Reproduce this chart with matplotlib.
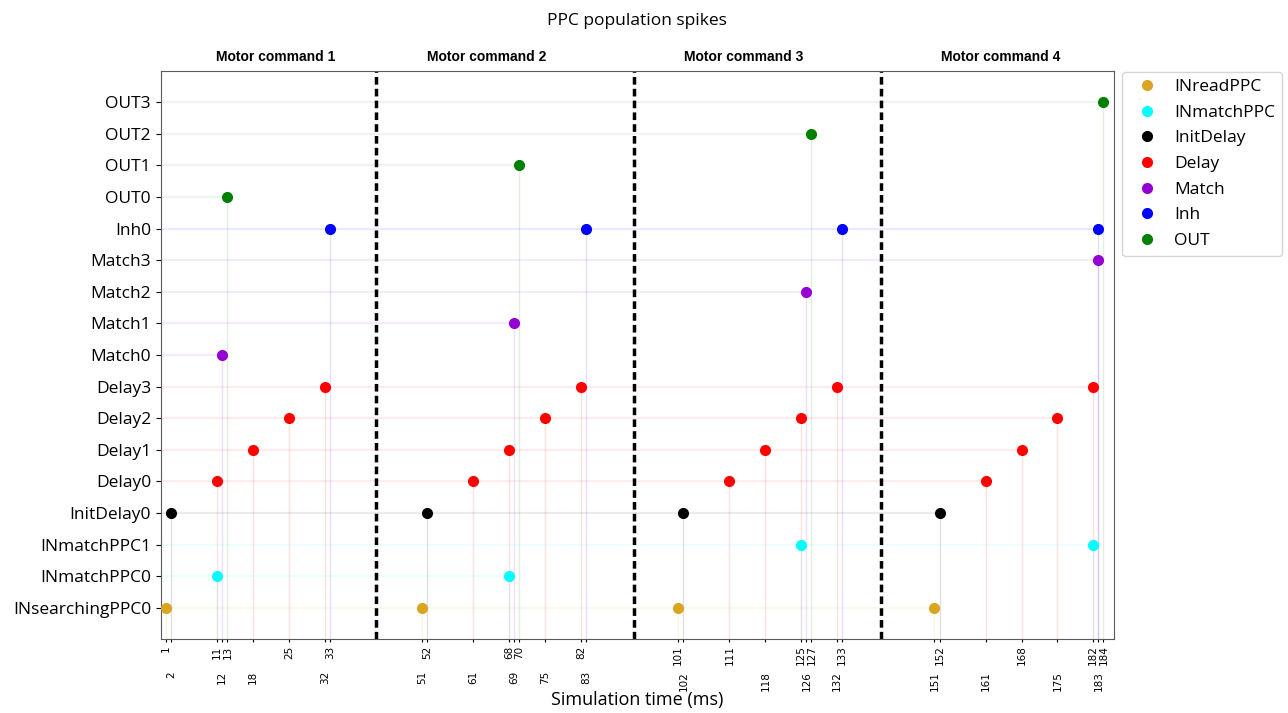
import numpy as np
import matplotlib.pyplot as plt
from matplotlib.lines import Line2D
from matplotlib.transforms import blended_transform_factory

# neuron rows, bottom to top
neurons = ["INsearchingPPC0", "INmatchPPC0", "INmatchPPC1", "InitDelay0",
           "Delay0", "Delay1", "Delay2", "Delay3",
           "Match0", "Match1", "Match2", "Match3",
           "Inh0", "OUT0", "OUT1", "OUT2", "OUT3"]
neuron_group = [0, 1, 1, 2, 3, 3, 3, 3, 4, 4, 4, 4, 5, 6, 6, 6, 6]

# spike times (ms) per neuron
spike_times = [
    [1, 51, 101, 151],      # INsearchingPPC0
    [11, 68],               # INmatchPPC0
    [125, 182],             # INmatchPPC1
    [2, 52, 102, 152],      # InitDelay0
    [11, 61, 111, 161],     # Delay0
    [18, 68, 118, 168],     # Delay1
    [25, 75, 125, 175],     # Delay2
    [32, 82, 132, 182],     # Delay3
    [12],                   # Match0
    [69],                   # Match1
    [126],                  # Match2
    [183],                  # Match3
    [33, 83, 133, 183],     # Inh0
    [13],                   # OUT0
    [70],                   # OUT1
    [127],                  # OUT2
    [184],                  # OUT3
]

groups = ["INreadPPC", "INmatchPPC", "InitDelay", "Delay", "Match", "Inh", "OUT"]
group_colors = ["goldenrod", "cyan", "black", "red", "darkviolet", "blue", "green"]

# motor command boundaries and labels
boundaries = [42, 92.3, 140.5]
command_labels = ["Motor command 1", "Motor command 2", "Motor command 3", "Motor command 4"]
command_x = [22.5, 63.7, 113.7, 164]

fig = plt.figure(figsize=(12.88, 7.13), dpi=100)
ax = fig.add_axes([0.1248, 0.1034, 0.7399, 0.7975])

ymin = -1
for row, times in enumerate(spike_times):
    c = group_colors[neuron_group[row]]
    ax.hlines(row, 0, max(times), color=c, alpha=0.08, lw=1.6)
    ax.vlines(times, ymin, row, color=c, alpha=0.12, lw=1)
    ax.plot(times, [row] * len(times), 'o', color=c, markersize=7, zorder=3)

for b in boundaries:
    ax.axvline(b, color='black', lw=2.5, ls=(0, (2.2, 1.2)))

trans = blended_transform_factory(ax.transData, ax.transAxes)
for x, lab in zip(command_x, command_labels):
    ax.text(x, 1.012, lab, transform=trans, ha='center', va='bottom',
            fontsize=10, fontweight='bold', family='Liberation Sans')

ax.set_xlim(0, 186)
ax.set_ylim(ymin, len(neurons))
ax.set_yticks(range(len(neurons)))
ax.set_yticklabels(neurons, family='Open Sans', fontsize=12.5)

all_times = sorted(set(t for times in spike_times for t in times))
ax.set_xticks(all_times)
ax.set_xticklabels([str(t) for t in all_times], rotation=90, fontsize=7.5)
ax.tick_params(axis='x', length=2.5, pad=2)
for i, tick in enumerate(ax.xaxis.get_major_ticks()):
    if i % 2 == 1:
        tick.set_pad(20.5)

for s in ax.spines.values():
    s.set_color('0.35')

ax.set_xlabel("Simulation time (ms)", family='Open Sans', fontsize=13)
ax.xaxis.set_label_coords(0.5, -0.116)
ax.xaxis.label.set_va('baseline')
ax.set_title("PPC population spikes", family='Open Sans', fontsize=12.5, pad=33)

handles = [Line2D([], [], marker='o', ls='', color=c, markersize=7) for c in group_colors]
ax.legend(handles, groups, loc='upper left', bbox_to_anchor=(1.009, 0.998),
          borderaxespad=0, prop={'family': 'Open Sans', 'size': 12.5},
          labelspacing=0.55, handletextpad=0.6)

plt.savefig('out.png', dpi=100)
